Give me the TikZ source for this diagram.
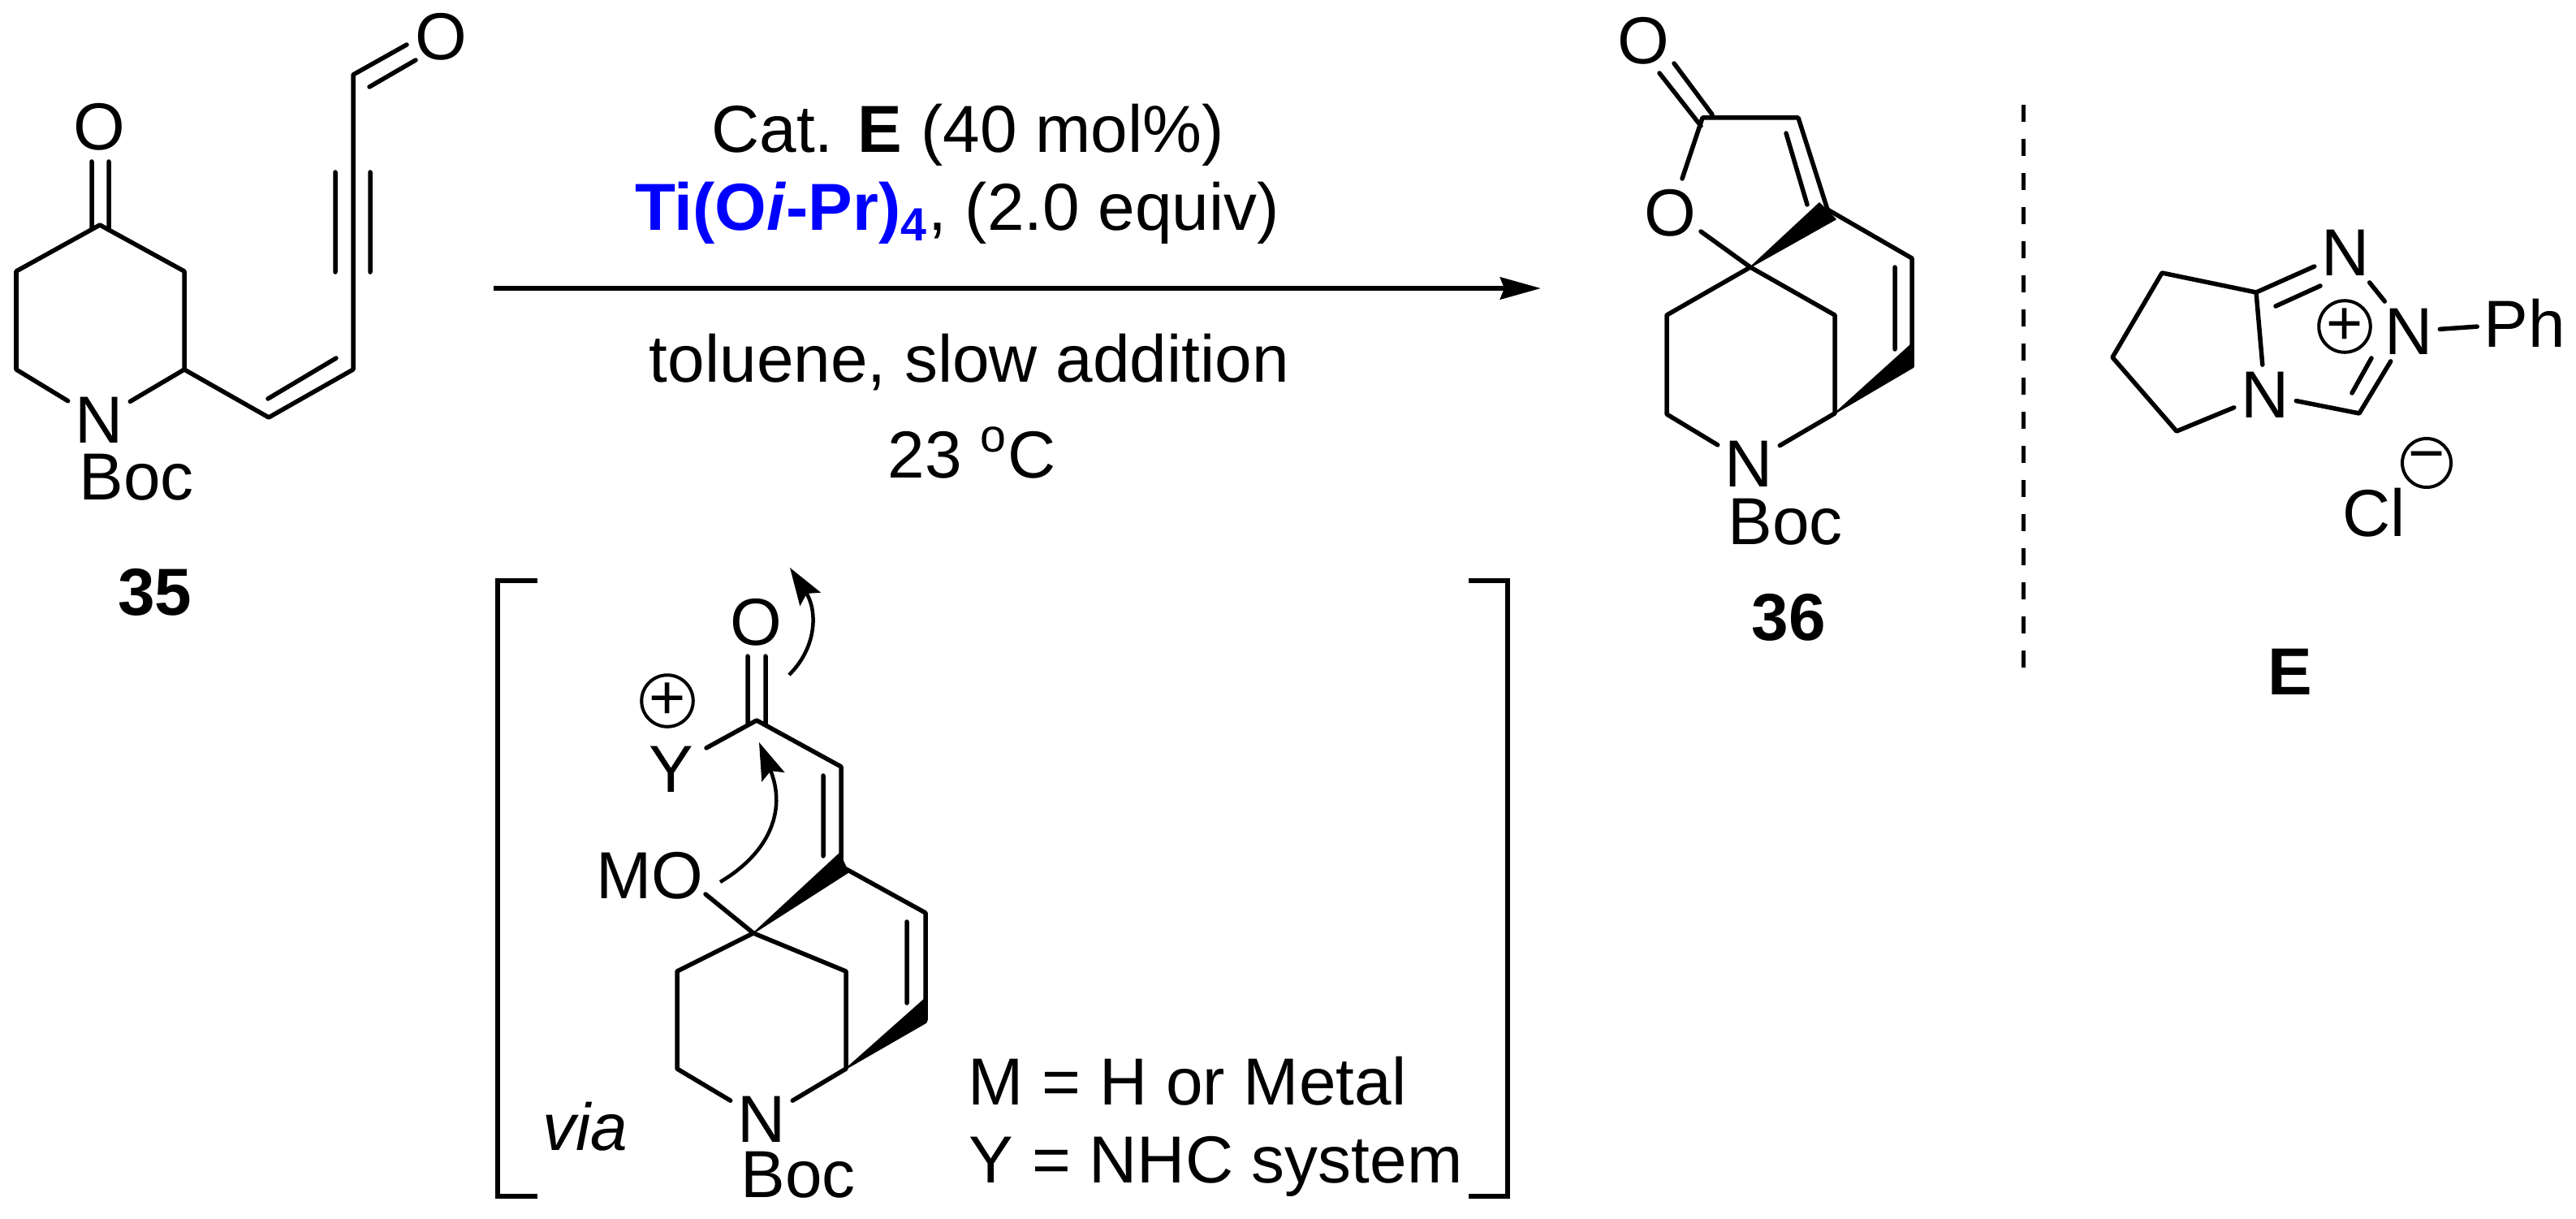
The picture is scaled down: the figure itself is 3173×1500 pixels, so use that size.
\documentclass[tikz,border=0pt]{standalone}
\usepackage{fontspec}
\setmainfont{Liberation Sans}
\usetikzlibrary{arrows.meta}
\tikzset{
  bond/.style={line width=0.055cm,line cap=round,line join=round},
  wedgebond/.style={fill=black,draw=black,line width=0.015cm,line join=round},
  curly/.style={line width=0.045cm,-{Stealth[length=0.46cm,width=0.3cm,inset=0.08cm]}},
  atomlabel/.style={inner sep=0.08cm},
  plainlabel/.style={inner sep=0pt},
  chargering/.style={circle,draw,line width=0.04cm,minimum size=0.6cm,inner sep=0pt,font=\fontsize{22}{24}\selectfont}
}
\begin{document}
\begin{tikzpicture}[x=0.01cm,y=-0.01cm,every node/.style={font=\fontsize{23.3}{28}\selectfont}]
  \useasboundingbox (0,0) rectangle (3173,1500);

  \node[plainlabel] (oa) at (122,156) {O};
  \node[atomlabel] (na) at (122,517) {N};
  \node[plainlabel] (boca) at (168,588) {Boc};
  \node[plainlabel] (ob) at (543,45) {O};
  \node[plainlabel] (cmpda) at (191,729) {\textbf{35}};
  \coordinate (a1) at (123,277);
  \coordinate (a2) at (227,334);
  \coordinate (a3) at (227,455);
  \coordinate (a4) at (20,455);
  \coordinate (a5) at (20,334);
  \coordinate (a6) at (331,514);
  \coordinate (a7) at (435,455);
  \coordinate (a8) at (435,92);
  \coordinate (o1) at (113,199);
  \coordinate (o2) at (113,282);
  \coordinate (o3) at (134,199);
  \coordinate (o4) at (134,283);
  \coordinate (d1) at (330,491);
  \coordinate (d2) at (414,441);
  \coordinate (t1) at (413,212);
  \coordinate (t2) at (413,335);
  \coordinate (t3) at (456,212);
  \coordinate (t4) at (456,335);
  \coordinate (f1) at (501,55);
  \coordinate (f2) at (455,107);
  \coordinate (f3) at (512,74);
  \draw[bond] (na) -- (a4) -- (a5) -- (a1) -- (a2) -- (a3) -- (na);
  \draw[bond] (a3) -- (a6) -- (a7) -- (a8) -- (f1);
  \draw[bond] (o1) -- (o2) (o3) -- (o4) (d1) -- (d2) (t1) -- (t2) (t3) -- (t4) (f2) -- (f3);

  \coordinate (arrowa) at (608,355);
  \coordinate (arrowb) at (1898,355);
  \draw[line width=0.06cm,-{Stealth[length=0.5cm,width=0.27cm,inset=0.05cm]}] (arrowa) -- (arrowb);
  \node[plainlabel,anchor=base] (conda) at (1192,188) {Cat. \textbf{E} (40 mol\%)};
  \node[plainlabel,anchor=base] (condb) at (1179,283) {{\color{blue}\bfseries Ti(O\textit{i}-Pr)\textsubscript{4}}, (2.0 equiv)};
  \node[plainlabel,anchor=base] (condc) at (1194,470) {toluene, slow addition};
  \node[plainlabel,anchor=base] (condd) at (1197,588) {23 \textsuperscript{o}C};

  \node[plainlabel] (oc) at (2024,50) {O};
  \node[plainlabel] (od) at (2057,262) {O};
  \node[atomlabel] (nb) at (2154,571) {N};
  \node[plainlabel] (bocb) at (2199,643) {Boc};
  \node[plainlabel] (cmpdb) at (2203,760) {\textbf{36}};
  \coordinate (b1) at (2097,145);
  \coordinate (b2) at (2215,145);
  \coordinate (b3) at (2251,258);
  \coordinate (b4) at (2355,318);
  \coordinate (b5) at (2355,450);
  \coordinate (b6) at (2156,329);
  \coordinate (b7) at (2053,388);
  \coordinate (b8) at (2053,510);
  \coordinate (b9) at (2260,509);
  \coordinate (b10) at (2260,388);
  \coordinate (p1) at (2044,90);
  \coordinate (p2) at (2095,155);
  \coordinate (p3) at (2062,78);
  \coordinate (p4) at (2109,141);
  \coordinate (p5) at (2072,220);
  \coordinate (p6) at (2095,285);
  \coordinate (p7) at (2200,164);
  \coordinate (p8) at (2226,252);
  \coordinate (p9) at (2334,329);
  \coordinate (p10) at (2334,430);
  \coordinate (w1) at (2241,250);
  \coordinate (w2) at (2261,270);
  \coordinate (w3) at (2353,425);
  \coordinate (w4) at (2357,452);
  \draw[bond] (p1) -- (p2) (p3) -- (p4) (p5) -- (b1) -- (b2) -- (b3) (p7) -- (p8);
  \draw[bond] (p6) -- (b6) -- (b7) -- (b8) -- (nb) -- (b9) -- (b10) -- (b6);
  \draw[bond] (b3) -- (b4) -- (b5) (p9) -- (p10);
  \draw[wedgebond] (b6) -- (w1) -- (w2) -- cycle;
  \draw[wedgebond] (b9) -- (w3) -- (w4) -- cycle;

  \coordinate (dasha) at (2492,129);
  \coordinate (dashb) at (2492,824);
  \draw[line width=0.05cm,dash pattern=on 0.21cm off 0.21cm] (dasha) -- (dashb);

  \node[atomlabel] (nc) at (2889,311) {N};
  \node[atomlabel] (nd) at (2967,408) {N};
  \node[atomlabel] (ne) at (2790,486) {N};
  \node[atomlabel] (ph) at (3110,398) {Ph};
  \node[plainlabel] (cl) at (2924,631) {Cl};
  \node[chargering] (plusa) at (2888,402) {+};
  \node[chargering] (minusa) at (2989,570) {−};
  \node[plainlabel] (cate) at (2821,827) {\textbf{E}};
  \coordinate (e1) at (2779,360);
  \coordinate (e2) at (2663,336);
  \coordinate (e3) at (2602,440);
  \coordinate (e4) at (2681,531);
  \coordinate (e5) at (2906,509);
  \coordinate (q1) at (2803,377);
  \coordinate (q2) at (2858,352);
  \coordinate (q3) at (2921,441);
  \coordinate (q4) at (2897,484);
  \draw[bond] (nc) -- (e1) -- (e2) -- (e3) -- (e4) -- (ne) -- (e1);
  \draw[bond] (ne) -- (e5) -- (nd) -- (nc) (nd) -- (ph) (q1) -- (q2) (q3) -- (q4);

  \coordinate (bra) at (662,715);
  \coordinate (brb) at (613,715);
  \coordinate (brc) at (613,1473);
  \coordinate (brd) at (662,1473);
  \coordinate (bre) at (1809,715);
  \coordinate (brf) at (1857,715);
  \coordinate (brg) at (1857,1473);
  \coordinate (brh) at (1809,1473);
  \draw[line width=0.055cm] (bra) -- (brb) -- (brc) -- (brd);
  \draw[line width=0.055cm] (bre) -- (brf) -- (brg) -- (brh);

  \node[plainlabel] (oe) at (931,766) {O};
  \node[plainlabel] (y) at (827,947) {Y};
  \node[chargering] (plusb) at (822,863) {+};
  \node[plainlabel] (mo) at (800,1078) {MO};
  \node[atomlabel] (nf) at (938,1378) {N};
  \node[plainlabel] (bocc) at (983,1447) {Boc};
  \node[plainlabel,anchor=base] (via) at (721,1416) {\textit{via}};
  \node[plainlabel,anchor=base west] (nota) at (1192,1360) {M = H or Metal};
  \node[plainlabel,anchor=base west] (notb) at (1193,1456) {Y = NHC system};
  \coordinate (c1) at (932,887);
  \coordinate (c2) at (870,921);
  \coordinate (c3) at (1036,944);
  \coordinate (c4) at (1036,1065);
  \coordinate (c5) at (1042,1070);
  \coordinate (c6) at (1140,1124);
  \coordinate (c7) at (1140,1256);
  \coordinate (c8) at (928,1149);
  \coordinate (c9) at (869,1101);
  \coordinate (c10) at (834,1196);
  \coordinate (c11) at (834,1316);
  \coordinate (c12) at (1042,1316);
  \coordinate (c13) at (1042,1196);
  \coordinate (r1) at (921,808);
  \coordinate (r2) at (921,893);
  \coordinate (r3) at (943,808);
  \coordinate (r4) at (943,893);
  \coordinate (r5) at (1014,955);
  \coordinate (r6) at (1014,1054);
  \coordinate (r7) at (1117,1135);
  \coordinate (r8) at (1117,1235);
  \coordinate (s1) at (1034,1051);
  \coordinate (s2) at (1045,1074);
  \coordinate (s3) at (1139,1230);
  \coordinate (s4) at (1141,1259);
  \coordinate (u1) at (972,831);
  \coordinate (u2) at (973,699);
  \coordinate (u3) at (887,1086);
  \coordinate (u4) at (935,914);
  \draw[bond] (r1) -- (r2) (r3) -- (r4) (c2) -- (c1) -- (c3) -- (c4) (r5) -- (r6);
  \draw[bond] (c5) -- (c6) -- (c7) (r7) -- (r8);
  \draw[bond] (c9) -- (c8) -- (c10) -- (c11) -- (nf) -- (c12) -- (c13) -- (c8);
  \draw[wedgebond] (c8) -- (s1) -- (s2) -- cycle;
  \draw[wedgebond] (c12) -- (s3) -- (s4) -- cycle;
  \draw[curly] (u1) .. controls (1008,795) and (1006,750) .. (u2);
  \draw[curly] (u3) .. controls (945,1052) and (970,1000) .. (u4);
\end{tikzpicture}
\end{document}
